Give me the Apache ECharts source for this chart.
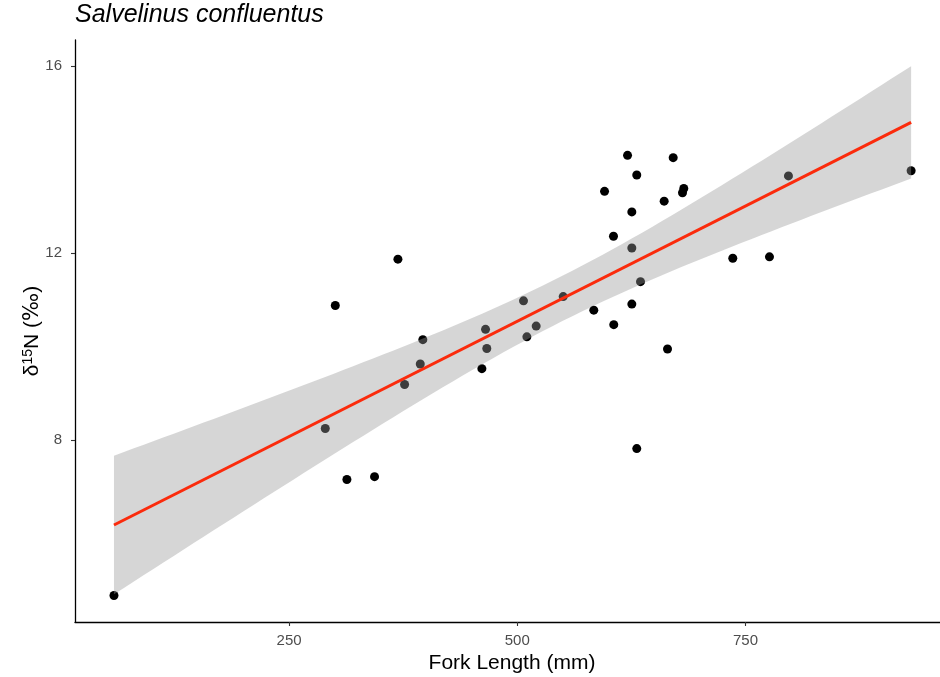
<!DOCTYPE html>
<html>
<head>
<meta charset="utf-8">
<script src="https://cdn.jsdelivr.net/npm/echarts@6/dist/echarts.min.js"></script>
<style>
  html, body { margin: 0; padding: 0; background: #fff; }
  #chart { width: 940px; height: 677px; }
</style>
</head>
<body>
<div id="chart"></div>
<script>
// Fork length (mm) and nitrogen isotope ratio for each fish
const forkLength = [
  58.1, 289.6, 313.3, 343.6, 300.6, 369.2, 376.5, 393.7, 396.5, 461.2,
  465.2, 466.6, 506.8, 510.5, 520.7, 550.3, 583.8, 605.7, 605.4, 595.6,
  620.8, 630.9, 625.5, 625.5, 625.5, 635.0, 630.9, 664.6, 660.9, 670.8,
  682.4, 681.0, 736.1, 776.3, 797.1, 931.5
];
const d15N = [
  4.68, 8.25, 7.16, 7.22, 10.88, 11.87, 9.19, 9.63, 10.15, 9.53,
  10.37, 9.96, 10.98, 10.21, 10.44, 11.07, 10.78, 10.47, 12.36, 13.32,
  14.09, 13.67, 12.88, 12.11, 10.91, 11.39, 7.82, 9.95, 13.11, 14.04,
  13.38, 13.29, 11.89, 11.92, 13.65, 13.76
];
const xTicks = [250, 500, 750];
const yTicks = [8, 12, 16];

// Linear model with 95% confidence band for the mean response
const n = forkLength.length;
const meanX = forkLength.reduce((a, b) => a + b, 0) / n;
const meanY = d15N.reduce((a, b) => a + b, 0) / n;
let sxx = 0, sxy = 0;
for (let i = 0; i < n; i++) {
  sxx += (forkLength[i] - meanX) ** 2;
  sxy += (forkLength[i] - meanX) * (d15N[i] - meanY);
}
const slope = sxy / sxx;
const intercept = meanY - slope * meanX;
let sse = 0;
for (let i = 0; i < n; i++) {
  sse += (d15N[i] - (intercept + slope * forkLength[i])) ** 2;
}
const resSd = Math.sqrt(sse / (n - 2));
const tCrit = 2.032; // t quantile, 0.975, df = 34
const xLo = Math.min(...forkLength);
const xHi = Math.max(...forkLength);
const steps = 80;
const band = [];
for (let i = 0; i <= steps; i++) {
  const x = xLo + (xHi - xLo) * i / steps;
  const fit = intercept + slope * x;
  const se = resSd * Math.sqrt(1 / n + (x - meanX) ** 2 / sxx);
  band.push([x, fit - tCrit * se, fit + tCrit * se]);
}
const fitLine = [[xLo, intercept + slope * xLo], [xHi, intercept + slope * xHi]];

const font = 'Liberation Sans, Arial, Helvetica, sans-serif';
const chart = echarts.init(document.getElementById('chart'), null, { renderer: 'canvas' });

chart.setOption({
  animation: false,
  backgroundColor: '#fff',
  title: {
    text: 'Salvelinus confluentus',
    left: 75,
    top: 3,
    padding: 0,
    textStyle: { fontFamily: font, fontStyle: 'italic', fontWeight: 'normal', fontSize: 25, color: '#000' }
  },
  // the panel runs a little past the right edge of the canvas
  grid: { left: 75, right: -9, top: 40, bottom: 55, outerBoundsMode: 'none', containLabel: false },
  xAxis: {
    type: 'value',
    min: 15.4,
    max: 973,
    splitLine: { show: false },
    axisLine: { show: true, onZero: false, lineStyle: { color: '#000', width: 1.3 } },
    axisTick: { show: true, length: 4, customValues: xTicks, lineStyle: { color: '#333', width: 1.1 } },
    axisLabel: { customValues: xTicks, color: '#4d4d4d', fontSize: 15, fontFamily: font, margin: 11 },
    name: 'Fork Length (mm)',
    nameLocation: 'middle',
    nameGap: 31,
    nameMoveOverlap: false,
    nameTextStyle: { fontFamily: font, fontSize: 21, color: '#000' }
  },
  yAxis: {
    type: 'value',
    min: 4.113,
    max: 16.556,
    splitLine: { show: false },
    axisLine: { show: true, onZero: false, lineStyle: { color: '#000', width: 1.3 } },
    axisTick: { show: true, length: 4, customValues: yTicks, lineStyle: { color: '#333', width: 1.1 } },
    axisLabel: { customValues: yTicks, color: '#4d4d4d', fontSize: 15, fontFamily: font, margin: 13 },
    name: '{n|δ}{s|15}{n|N (}{p|‰}{n|)}',
    nameLocation: 'middle',
    nameRotate: 90,
    nameGap: 31,
    nameMoveOverlap: false,
    nameTextStyle: {
      fontFamily: font, color: '#000',
      rich: {
        n: { fontSize: 21, fontFamily: font, color: '#000' },
        p: { fontSize: 21, fontFamily: 'DejaVu Sans', color: '#000' },
        s: { fontSize: 14, fontFamily: font, color: '#000', verticalAlign: 'top', padding: [0, 0, 9, 0] }
      }
    }
  },
  series: [
    {
      type: 'scatter',
      z: 1,
      symbolSize: 9,
      itemStyle: { color: '#000', opacity: 1 },
      data: forkLength.map((x, i) => [x, d15N[i]])
    },
    {
      type: 'custom',
      z: 2,
      silent: true,
      data: [[xLo, band[0][1]]],
      renderItem: function (params, api) {
        const pts = [];
        for (let i = 0; i < band.length; i++) pts.push(api.coord([band[i][0], band[i][2]]));
        for (let i = band.length - 1; i >= 0; i--) pts.push(api.coord([band[i][0], band[i][1]]));
        return { type: 'polygon', shape: { points: pts }, style: { fill: 'rgba(153,153,153,0.4)' } };
      }
    },
    {
      type: 'line',
      z: 3,
      symbol: 'none',
      silent: true,
      lineStyle: { color: '#fb2b0c', width: 3 },
      data: fitLine
    }
  ]
});
</script>
</body>
</html>
